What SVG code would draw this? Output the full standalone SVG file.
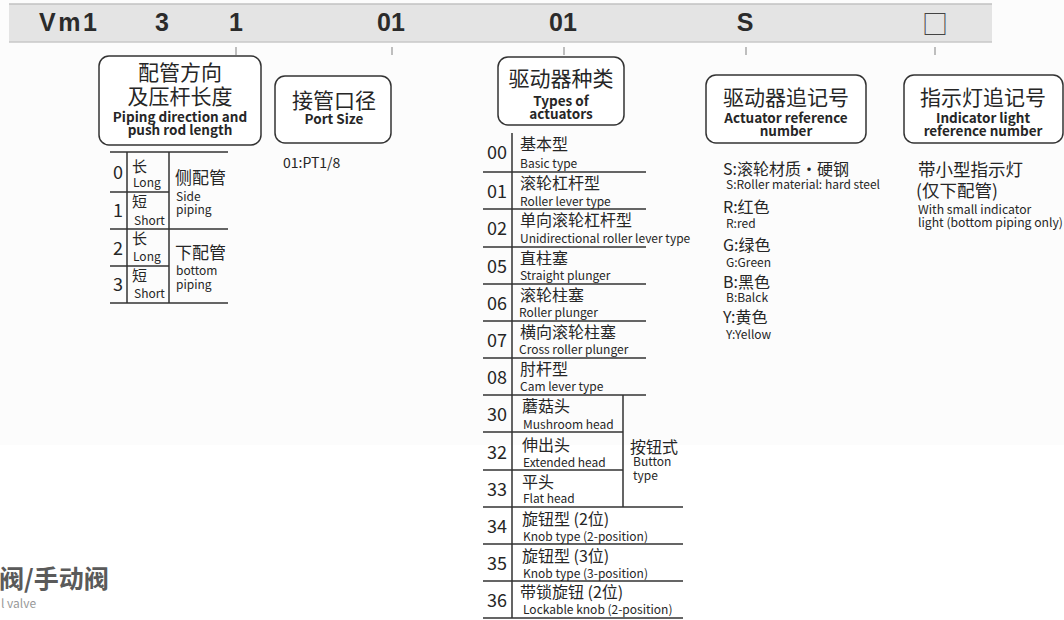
<svg xmlns="http://www.w3.org/2000/svg" width="1064" height="620" viewBox="0 0 1064 620">
<style>
text{font-family:"Noto Sans CJK SC","Noto Sans",sans-serif;fill:#262626}
.hd{font-family:"Liberation Sans",Arial,sans-serif;font-weight:bold;font-size:25px;fill:#2b2b2b}
.box{fill:#fff;stroke:#333;stroke-width:1.5}
.tick{stroke:#aaa;stroke-width:1.5}
.ln{stroke:#333;stroke-width:1.5;fill:none}
.bt{font-size:21px;text-anchor:middle}
.be{font-size:13.5px;font-weight:bold;text-anchor:middle}
.num{font-size:18px;text-anchor:middle}
.cn{font-size:16px}
.en{font-size:12px}
.tc{font-size:15px}
.tc2{font-size:17px}
.rc{font-size:16px}
.rc2{font-size:17.5px}
</style>
<rect x="0" y="0" width="1064" height="445" fill="#fcfcfc"/>
<g id="header">
<rect x="9" y="4" width="983" height="38" fill="#e4e4e4"/>
<line x1="9" y1="4" x2="992" y2="4" stroke="#c2c2c2" stroke-width="1.5"/>
<line x1="9" y1="42" x2="992" y2="42" stroke="#c8c8c8" stroke-width="1.5"/>
<text class="hd" x="39" y="31" letter-spacing="2.5">Vm1</text>
<text class="hd" x="162" y="31" text-anchor="middle">3</text>
<text class="hd" x="236" y="31" text-anchor="middle">1</text>
<text class="hd" x="391" y="31" text-anchor="middle">01</text>
<text class="hd" x="563" y="31" text-anchor="middle">01</text>
<text class="hd" x="745" y="31" text-anchor="middle">S</text>
<text x="935" y="34" text-anchor="middle" font-size="26" style="fill:#444">□</text>
</g>
<g id="connectors">
<line class="tick" x1="236" y1="47" x2="236" y2="55"/>
<line class="tick" x1="392" y1="47" x2="392" y2="55"/>
<line class="tick" x1="564" y1="47" x2="564" y2="55"/>
<line class="tick" x1="746" y1="47" x2="746" y2="55"/>
<line class="tick" x1="935" y1="47" x2="935" y2="55"/>
</g>
<g id="node-piping">
<rect class="box" x="99" y="56" width="162" height="89" rx="10"/>
<text class="bt" x="180" y="80">配管方向</text>
<text class="bt" x="180" y="104">及压杆长度</text>
<text class="be" x="180" y="122">Piping direction and</text>
<text class="be" x="180" y="135">push rod length</text>
</g>
<g id="table-piping">
<path class="ln" d="M110 152H228M110 192H169M110 229H228M110 266H169M110 303H228M127 152V303M169 152V303"/>
<text class="num" x="118" y="179">0</text>
<text class="num" x="118" y="217">1</text>
<text class="num" x="118" y="255">2</text>
<text class="num" x="118" y="291">3</text>
<text class="tc" x="132" y="172">长</text>
<text class="en" x="133" y="187">Long</text>
<text class="tc" x="132" y="207">短</text>
<text class="en" x="134" y="225">Short</text>
<text class="tc" x="132" y="244">长</text>
<text class="en" x="133" y="261">Long</text>
<text class="tc" x="132" y="281">短</text>
<text class="en" x="134" y="298">Short</text>
<text class="tc2" x="175" y="184">侧配管</text>
<text class="en" x="176" y="201">Side</text>
<text class="en" x="176" y="214">piping</text>
<text class="tc2" x="175" y="259">下配管</text>
<text class="en" x="176" y="275">bottom</text>
<text class="en" x="176" y="289">piping</text>
</g>
<g id="node-port">
<rect class="box" x="275" y="76" width="116" height="67" rx="10"/>
<text class="bt" x="334" y="108">接管口径</text>
<text class="be" x="334" y="124">Port Size</text>
<text x="283" y="168" font-size="14">01:PT1/8</text>
</g>
<g id="node-actuator">
<rect class="box" x="498" y="57" width="126" height="68" rx="10"/>
<text class="bt" x="561" y="86">驱动器种类</text>
<text class="be" x="561" y="106">Types of</text>
<text class="be" x="561" y="119">actuators</text>
</g>
<g id="table-actuator">
<path class="ln" d="M512 133V618M483 172H646M483 209H646M483 247H646M483 284H646M483 321H646M483 358H646M483 395H646M483 432H623M483 470H623M483 507H683M483 544H683M483 581H683M483 618H683M623 395V507"/>
<text class="num" x="497" y="159">00</text>
<text class="cn" x="520" y="150">基本型</text>
<text class="en" x="520" y="168">Basic type</text>
<text class="num" x="497" y="198">01</text>
<text class="cn" x="520" y="189">滚轮杠杆型</text>
<text class="en" x="520" y="206">Roller lever type</text>
<text class="num" x="497" y="235">02</text>
<text class="cn" x="520" y="226">单向滚轮杠杆型</text>
<text class="en" x="520" y="243">Unidirectional roller lever type</text>
<text class="num" x="497" y="273">05</text>
<text class="cn" x="520" y="264">直柱塞</text>
<text class="en" x="520" y="280">Straight plunger</text>
<text class="num" x="497" y="310">06</text>
<text class="cn" x="520" y="301">滚轮柱塞</text>
<text class="en" x="519" y="317">Roller plunger</text>
<text class="num" x="497" y="347">07</text>
<text class="cn" x="520" y="338">横向滚轮柱塞</text>
<text class="en" x="519" y="354">Cross roller plunger</text>
<text class="num" x="497" y="384">08</text>
<text class="cn" x="520" y="375">肘杆型</text>
<text class="en" x="520" y="391">Cam lever type</text>
<text class="num" x="497" y="421">30</text>
<text class="cn" x="522" y="412">蘑菇头</text>
<text class="en" x="523" y="429">Mushroom head</text>
<text class="num" x="497" y="459">32</text>
<text class="cn" x="522" y="451">伸出头</text>
<text class="en" x="523" y="467">Extended head</text>
<text class="num" x="497" y="496">33</text>
<text class="cn" x="522" y="488">平头</text>
<text class="en" x="523" y="503">Flat head</text>
<text class="num" x="497" y="533">34</text>
<text class="cn" x="522" y="525">旋钮型 (2位)</text>
<text class="en" x="523" y="541">Knob type (2-position)</text>
<text class="num" x="497" y="570">35</text>
<text class="cn" x="522" y="562">旋钮型 (3位)</text>
<text class="en" x="523" y="578">Knob type (3-position)</text>
<text class="num" x="497" y="607">36</text>
<text class="cn" x="520" y="598">带锁旋钮 (2位)</text>
<text class="en" x="523" y="614">Lockable knob (2-position)</text>
<text class="cn" x="630" y="453">按钮式</text>
<text class="en" x="633" y="466">Button</text>
<text class="en" x="633" y="480">type</text>
</g>
<g id="node-actuator-ref">
<rect class="box" x="706" y="75" width="160" height="68" rx="10"/>
<text class="bt" x="786" y="105">驱动器追记号</text>
<text class="be" x="786" y="123">Actuator reference</text>
<text class="be" x="786" y="136">number</text>
<text class="rc" x="723" y="175">S:滚轮材质·硬钢</text>
<text class="en" x="726" y="189">S:Roller material: hard steel</text>
<text class="rc" x="723" y="213">R:红色</text>
<text class="en" x="726" y="228">R:red</text>
<text class="rc" x="723" y="251">G:绿色</text>
<text class="en" x="726" y="267">G:Green</text>
<text class="rc" x="723" y="288">B:黑色</text>
<text class="en" x="726" y="302">B:Balck</text>
<text class="rc" x="723" y="323">Y:黄色</text>
<text class="en" x="726" y="339">Y:Yellow</text>
</g>
<g id="node-indicator-ref">
<rect class="box" x="904" y="75" width="159" height="68" rx="10"/>
<text class="bt" x="983" y="105">指示灯追记号</text>
<text class="be" x="983" y="123">Indicator light</text>
<text class="be" x="983" y="136">reference number</text>
<text class="rc2" x="918" y="176">带小型指示灯</text>
<text class="rc2" x="916" y="197">(仅下配管)</text>
<text x="918" y="214" font-size="12.2">With small indicator</text>
<text x="918" y="227" font-size="12.2">light (bottom piping only)</text>
</g>
<g id="footer">
<text x="-1" y="588" font-size="25" font-weight="bold" style="fill:#5a5a5a">阀/手动阀</text>
<text x="1" y="608" font-size="12" style="fill:#999">l valve</text>
</g>
</svg>
